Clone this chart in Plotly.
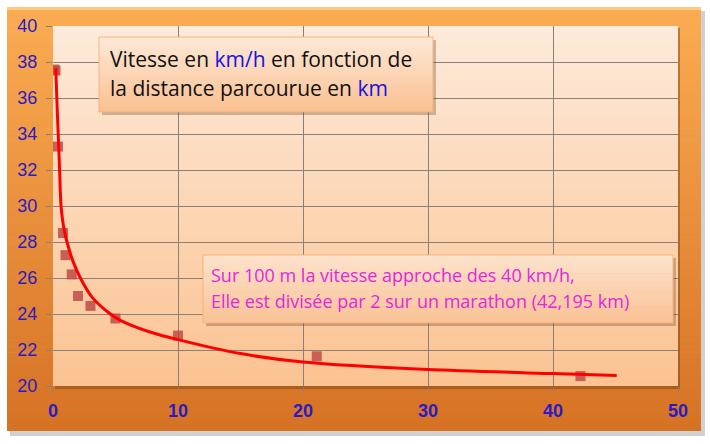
import plotly.graph_objects as go

# ---- data ----
distance_km = [0.1, 0.2, 0.4, 0.8, 1.0, 1.5, 2.0, 3.0, 5.0, 10.0, 21.1, 42.195]
speed_kmh = [37.58, 37.52, 33.3, 28.5, 27.27, 26.2, 25.0, 24.45, 23.75, 22.8, 21.65, 20.55]

trend_x = [0.22, 0.34, 0.5, 0.64, 0.77, 0.93, 1.12, 1.57, 2.19, 3.12, 4.59, 5.39, 7.76,
           10.16, 15.0, 20.0, 30.0, 40.0, 45.1]
trend_y = [37.65, 35.32, 32.54, 30.0, 29.2, 28.55, 28.0, 26.98, 26.0, 24.94, 24.0, 23.65, 23.0,
           22.55, 21.8, 21.33, 20.91, 20.69, 20.59]

x_ticks = [0, 10, 20, 30, 40, 50]
y_ticks = [20, 22, 24, 26, 28, 30, 32, 34, 36, 38, 40]

title_lines = ['Vitesse en <span style="color:#1414E6">km/h</span> en fonction de',
               'la distance parcourue en <span style="color:#1414E6">km</span>']
note_lines = ['Sur 100 m la vitesse approche des 40 km/h,',
              'Elle est divisée par 2 sur un marathon (42,195 km)']

# ---- geometry helpers (pixel -> paper) ----
W, H = 710, 444
L, R, T, B = 53, 678, 26, 386


def px(x):
    return (x - L) / (R - L)


def py(y):
    return (B - y) / (B - T)


shapes = []


def grad_rect(x0, y0, x1, y1, c_top, c_bot, n, layer):
    for i in range(n):
        f = i / (n - 1)
        c = tuple(int(round(c_top[k] + (c_bot[k] - c_top[k]) * f)) for k in range(3))
        ya = y0 + (y1 - y0) * i / n
        yb = y0 + (y1 - y0) * (i + 1) / n + 0.6
        shapes.append(dict(type="rect", xref="paper", yref="paper", layer=layer,
                           x0=px(x0), x1=px(x1), y0=py(ya), y1=py(min(yb, y1)),
                           line=dict(width=0), fillcolor="rgb(%d,%d,%d)" % c))


# outer frame shadow
shapes.append(dict(type="rect", xref="paper", yref="paper", layer="below",
                   x0=px(10), x1=px(705), y0=py(11), y1=py(436),
                   line=dict(width=0), fillcolor="rgba(120,120,120,0.35)"))
# outer frame gradient
grad_rect(7, 7, 701, 431, (251, 172, 82), (214, 114, 36), 70, "below")
# highlight at top edge
shapes.append(dict(type="rect", xref="paper", yref="paper", layer="below",
                   x0=px(7), x1=px(701), y0=py(7), y1=py(10),
                   line=dict(width=0), fillcolor="rgba(255,215,150,0.7)"))
# plot area shadow
shapes.append(dict(type="rect", xref="paper", yref="paper", layer="below",
                   x0=px(L + 2), x1=px(R + 2), y0=py(T + 2), y1=py(B + 3),
                   line=dict(width=0), fillcolor="rgba(110,60,20,0.45)"))
# plot area gradient
grad_rect(L, T, R, B, (253, 234, 218), (251, 195, 146), 60, "below")


# annotation boxes (above)
def box(x0, y0, x1, y1, c_top, c_bot):
    shapes.append(dict(type="rect", xref="paper", yref="paper", layer="above",
                       x0=px(x0 + 3), x1=px(x1 + 3), y0=py(y0 + 3), y1=py(y1 + 3),
                       line=dict(width=0), fillcolor="rgba(90,60,30,0.30)"))
    grad_rect(x0, y0, x1, y1, c_top, c_bot, 30, "above")
    shapes.append(dict(type="rect", xref="paper", yref="paper", layer="above",
                       x0=px(x0), x1=px(x1), y0=py(y0), y1=py(y1),
                       line=dict(width=1, color="rgba(245,175,120,0.9)"),
                       fillcolor="rgba(0,0,0,0)"))


box(99, 37, 433, 112, (253, 232, 214), (250, 193, 146))
box(203, 255, 673, 323, (253, 226, 204), (250, 195, 150))

annotations = []
title_font = dict(family="Open Sans", size=21, color="#111111")
for i, line in enumerate(title_lines):
    annotations.append(dict(xref="paper", yref="paper", x=px(108), y=py(59 + i * 29),
                            text=line, showarrow=False, xanchor="left", yanchor="middle",
                            font=title_font))
note_font = dict(family="Open Sans", size=18, color="#E326DE")
for i, line in enumerate(note_lines):
    annotations.append(dict(xref="paper", yref="paper", x=px(209), y=py(275 + i * 26),
                            text=line, showarrow=False, xanchor="left", yanchor="middle",
                            font=note_font))

fig = go.Figure()
fig.add_trace(go.Scatter(x=distance_km, y=speed_kmh, mode="markers",
                         marker=dict(symbol="square", size=10, color="#BE4B48", opacity=0.85,
                                     line=dict(width=0)),
                         showlegend=False, hoverinfo="x+y"))
fig.add_trace(go.Scatter(x=trend_x, y=trend_y, mode="lines",
                         line=dict(color="#FF0000", width=3, shape="spline", smoothing=0.8),
                         showlegend=False, hoverinfo="skip"))

fig.update_layout(
    width=W, height=H,
    margin=dict(l=L, r=W - R, t=T, b=H - B, pad=0),
    paper_bgcolor="white",
    plot_bgcolor="rgba(0,0,0,0)",
    shapes=shapes,
    annotations=annotations,
    showlegend=False,
    xaxis=dict(range=[0, 50], tickvals=x_ticks, ticktext=[str(v) for v in x_ticks],
               showgrid=True, gridcolor="#8A8078", gridwidth=1, zeroline=False,
               showline=False, ticks="outside", ticklen=6, tickcolor="#8A8078",
               ticklabelstandoff=2, automargin=False,
               tickfont=dict(family="Liberation Sans", size=18, color="#2A1CC4", weight="bold")),
    yaxis=dict(range=[20, 40], tickvals=y_ticks, ticktext=[str(v) for v in y_ticks],
               showgrid=True, gridcolor="#8A8078", gridwidth=1, zeroline=False,
               showline=False, ticks="outside", ticklen=6, tickcolor="#8A8078",
               ticklabelstandoff=5, automargin=False,
               tickfont=dict(family="Liberation Sans", size=18, color="#2A1CC4")),
)

fig.write_html("out.html", config={"displayModeBar": False},
               post_script="document.body.style.margin='0';document.body.style.overflow='hidden';")
